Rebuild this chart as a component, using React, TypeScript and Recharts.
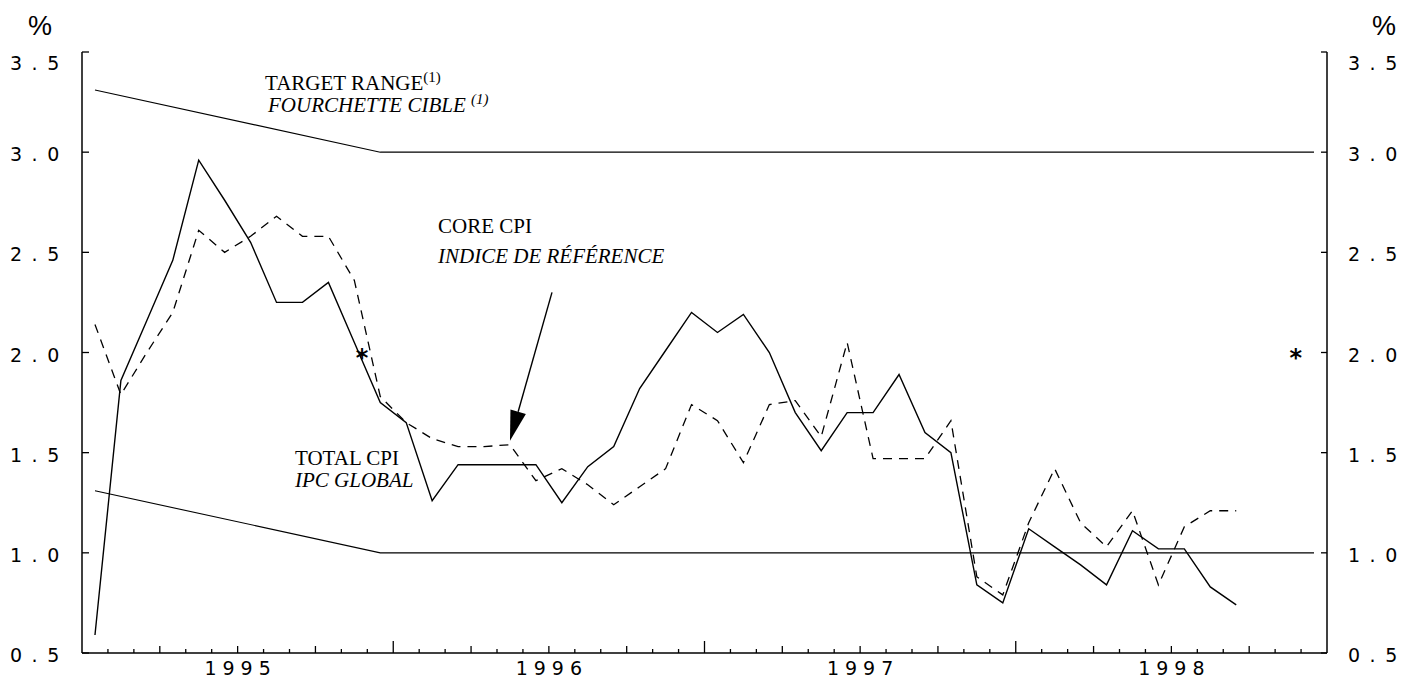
import React from 'react';
import { ComposedChart, Line, Scatter, XAxis, YAxis, ReferenceLine, Customized } from 'recharts';

// monthly, Jan 1995 .. Sep 1998 (year-over-year % change)
const years = ['1995', '1996', '1997', '1998'];

const totalCpi = [
  0.59, 1.86, 2.16, 2.46, 2.96, 2.76, 2.55, 2.25, 2.25, 2.35, 2.05, 1.75,
  1.65, 1.26, 1.44, 1.44, 1.44, 1.44, 1.25, 1.43, 1.53, 1.82, 2.01, 2.2,
  2.1, 2.19, 2.0, 1.7, 1.51, 1.7, 1.7, 1.89, 1.6, 1.5, 0.84, 0.75,
  1.12, 1.03, 0.94, 0.84, 1.11, 1.02, 1.02, 0.83, 0.74,
];
const coreCpi = [
  2.14, 1.79, 2.0, 2.2, 2.61, 2.5, 2.58, 2.68, 2.58, 2.58, 2.36, 1.78,
  1.65, 1.57, 1.53, 1.53, 1.54, 1.36, 1.42, 1.34, 1.24, 1.33, 1.42, 1.74,
  1.66, 1.45, 1.74, 1.76, 1.58, 2.05, 1.47, 1.47, 1.47, 1.66, 0.88, 0.79,
  1.15, 1.42, 1.15, 1.03, 1.21, 0.84, 1.13, 1.21, 1.21,
];

// target range band (month index -> bound)
const targetMonths = [0, 11, 47];
const targetUpper = [3.31, 3.0, 3.0];
const targetLower = [1.31, 1.0, 1.0];

// asterisk markers (2% midpoint)
const starMonths = [10.3, 46.3];
const starValues = [2.0, 2.0];

const yTicks = [0.5, 1.0, 1.5, 2.0, 2.5, 3.0, 3.5];
const monthTicks = Array.from({ length: 49 }, (_, i) => i);

const toPoints = (vals: number[], months?: number[]) =>
  vals.map((v, i) => ({ x: (months ? months[i] : i) + 0.5, v }));

const totalData = toPoints(totalCpi);
const coreData = toPoints(coreCpi);
const upperData = toPoints(targetUpper, targetMonths);
const lowerData = toPoints(targetLower, targetMonths);
const starData = toPoints(starValues, starMonths);

const TICKFONT = "'DejaVu Sans', sans-serif";
const SERIF = "'Liberation Serif', 'Times New Roman', serif";

const YTickLeft = (props: any) => {
  const { x, y, payload } = props;
  const shift = payload.value === 3.5 ? 9 : 0;
  return (
    <g>
      <line x1={x} y1={y} x2={x + 7} y2={y} stroke="#000" strokeWidth={1.3} />
      <text x={x - 72} y={y + 9 + shift} fontFamily={TICKFONT} fontSize={19} letterSpacing={9.5} fill="#000">
        {payload.value.toFixed(1)}
      </text>
    </g>
  );
};

const YTickRight = (props: any) => {
  const { x, y, payload } = props;
  const shift = payload.value === 3.5 ? 9 : 0;
  return (
    <g>
      <line x1={x - 6} y1={y} x2={x} y2={y} stroke="#000" strokeWidth={1.3} />
      <text x={x + 21} y={y + 9 + shift} fontFamily={TICKFONT} fontSize={19} letterSpacing={9.5} fill="#000">
        {payload.value.toFixed(1)}
      </text>
    </g>
  );
};

const XTick = (props: any) => {
  const { x, y, payload } = props;
  const m = payload.value;
  const len = m % 12 === 0 ? 12 : m % 3 === 0 ? 7 : 4;
  return (
    <g>
      {m > 0 && m < 48 && <line x1={x} y1={y} x2={x} y2={y - len} stroke="#000" strokeWidth={1.3} />}
      {m % 12 === 6 && (
        <text x={x + 3} y={y + 22} textAnchor="middle" fontFamily={TICKFONT} fontSize={19} letterSpacing={6} fill="#000">
          {years[(m - 6) / 12]}
        </text>
      )}
    </g>
  );
};

const Star = (props: any) => {
  const { cx, cy } = props;
  return (
    <text x={cx} y={cy + 13} textAnchor="middle" fontFamily="'DejaVu Sans', sans-serif" fontWeight="bold" fontSize={24} fill="#000">
      *
    </text>
  );
};

const Arrow = (props: any) => {
  const { x1, y1, x2, y2 } = props;
  const dx = x2 - x1;
  const dy = y2 - y1;
  const len = Math.hypot(dx, dy) || 1;
  const ux = dx / len;
  const uy = dy / len;
  const head = 30;
  const half = 8;
  const bx = x2 - ux * head;
  const by = y2 - uy * head;
  return (
    <g>
      <line x1={x1} y1={y1} x2={bx} y2={by} stroke="#000" strokeWidth={1.4} />
      <polygon
        points={`${x2},${y2} ${bx - uy * half},${by + ux * half} ${bx + uy * half},${by - ux * half}`}
        fill="#000"
      />
    </g>
  );
};

const Annotations = () => (
  <g fontFamily={SERIF} fill="#000">
    <text x={32} y={27} textAnchor="middle" fontFamily="'Liberation Sans', Arial, sans-serif" fontSize={27}>%</text>
    <text x={1376} y={27} textAnchor="middle" fontFamily="'Liberation Sans', Arial, sans-serif" fontSize={27}>%</text>

    <text x={257} y={82} fontSize={21}>
      TARGET RANGE<tspan fontSize={15} dy={-8}>(1)</tspan>
    </text>
    <text x={260} y={104} fontSize={21} fontStyle="italic">
      FOURCHETTE CIBLE <tspan fontSize={15} dy={-8}>(1)</tspan>
    </text>

    <text x={430} y={225} fontSize={21}>CORE CPI</text>
    <text x={430} y={255} fontSize={21} fontStyle="italic">INDICE DE RÉFÉRENCE</text>

    <text x={287} y={457} fontSize={21}>TOTAL CPI</text>
    <text x={287} y={479} fontSize={21} fontStyle="italic">IPC GLOBAL</text>
  </g>
);

const App: React.FC = () => {
  return (
    <ComposedChart width={1401} height={670} margin={{ top: 44, right: 0, bottom: 0, left: 0 }}>
      <XAxis
        dataKey="x"
        type="number"
        domain={[0, 48]}
        ticks={monthTicks}
        interval={0}
        height={25}
        tickSize={0}
        tickMargin={0}
        tickLine={false}
        axisLine={{ stroke: '#000', strokeWidth: 1.5 }}
        tick={<XTick />}
        allowDataOverflow
      />
      <YAxis
        yAxisId="left"
        dataKey="v"
        type="number"
        domain={[0.5, 3.5]}
        ticks={yTicks}
        interval={0}
        width={74}
        tickSize={0}
        tickMargin={0}
        tickLine={false}
        axisLine={{ stroke: '#000', strokeWidth: 1.5 }}
        tick={<YTickLeft />}
        allowDataOverflow
      />
      <YAxis
        yAxisId="right"
        orientation="right"
        type="number"
        domain={[0.5, 3.5]}
        ticks={yTicks}
        interval={0}
        width={82}
        tickSize={0}
        tickMargin={0}
        tickLine={false}
        axisLine={{ stroke: '#000', strokeWidth: 1.5 }}
        tick={<YTickRight />}
        allowDataOverflow
      />

      <Line yAxisId="left" data={upperData} dataKey="v" type="linear" stroke="#000" strokeWidth={1.1} dot={false} activeDot={false} isAnimationActive={false} />
      <Line yAxisId="left" data={lowerData} dataKey="v" type="linear" stroke="#000" strokeWidth={1.1} dot={false} activeDot={false} isAnimationActive={false} />
      <Line yAxisId="left" data={coreData} dataKey="v" type="linear" stroke="#000" strokeWidth={1.3} strokeDasharray="9 7" dot={false} activeDot={false} isAnimationActive={false} />
      <Line yAxisId="left" data={totalData} dataKey="v" type="linear" stroke="#000" strokeWidth={1.4} dot={false} activeDot={false} isAnimationActive={false} />
      <Scatter yAxisId="left" data={starData} dataKey="v" shape={<Star />} isAnimationActive={false} />

      <ReferenceLine
        yAxisId="left"
        segment={[{ x: 18.12, y: 2.3 }, { x: 16.5, y: 1.56 }]}
        shape={<Arrow />}
        ifOverflow="visible"
      />
      <Customized component={<Annotations />} />
    </ComposedChart>
  );
};

export default App;
